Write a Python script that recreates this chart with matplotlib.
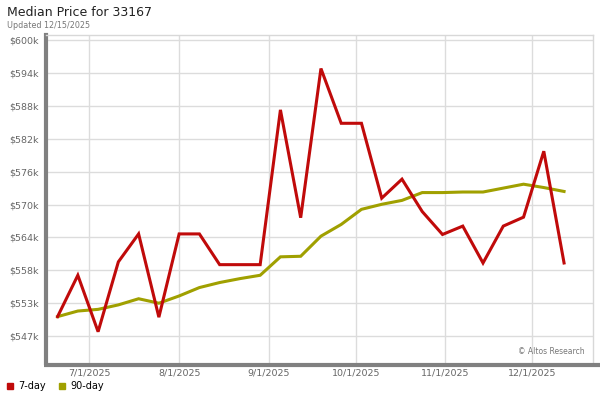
import datetime as dt
import matplotlib
matplotlib.use("Agg")
import matplotlib.pyplot as plt
import matplotlib.dates as mdates
from matplotlib.lines import Line2D

# weekly points, 6/20/2025 .. 12/12/2025
start = dt.date(2025, 6, 20)
weeks = [start + dt.timedelta(days=7 * i) for i in range(26)]

# prices in $k
day7 = [550.5, 557.9, 547.8, 560.3, 565.3, 550.4, 565.3, 565.3, 559.8, 559.8,
        559.8, 587.5, 568.2, 594.9, 585.1, 585.1, 571.7, 575.1, 569.3, 565.2,
        566.7, 560.1, 566.7, 568.3, 580.1, 560.1]
day90 = [550.5, 551.5, 551.8, 552.6, 553.7, 552.9, 554.2, 555.7, 556.6, 557.3,
         557.9, 561.2, 561.3, 564.9, 567.0, 569.7, 570.6, 571.3, 572.7, 572.7,
         572.8, 572.8, 573.5, 574.2, 573.6, 572.9]

ytick_labels = ["$547k", "$553k", "$558k", "$564k", "$570k",
                "$576k", "$582k", "$588k", "$594k", "$600k"]
xtick_dates = [dt.date(2025, m, 1) for m in range(7, 13)]

RED = "#c00a0a"
OLIVE = "#a0a000"

fig = plt.figure(figsize=(6, 4), dpi=100)
ax = fig.add_axes([46 / 600, 1 - 363 / 400, (593 - 46) / 600, (363 - 35) / 400])

ax.plot(weeks, day90, color=OLIVE, lw=2.2, solid_joinstyle="miter", zorder=3)
ax.plot(weeks, day7, color=RED, lw=2.2, solid_joinstyle="miter", zorder=4)

step = (600 - 547) / 9
yticks = [547 + step * i for i in range(10)]
ax.set_yticks(yticks)
ax.set_yticklabels(ytick_labels)
ax.set_ylim(542.2, 600.9)
ax.set_xticks(xtick_dates)
ax.xaxis.set_major_formatter(mdates.DateFormatter("%-m/%-d/%Y"))
ax.set_xlim(dt.date(2025, 6, 16) + dt.timedelta(hours=10), dt.date(2025, 12, 22) + dt.timedelta(hours=14))

ax.grid(True, color="#dcdcdc", lw=1)
ax.set_axisbelow(True)
ax.tick_params(length=0, labelsize=6.8, colors="#666666", pad=4)
ax.tick_params(axis="y", pad=5)

for s in ["top", "right"]:
    ax.spines[s].set_color("#d8d8d8")
    ax.spines[s].set_linewidth(1)
ax.spines["left"].set_color("#808080")
ax.spines["left"].set_linewidth(3)
ax.spines["bottom"].set_visible(False)
# bottom rule runs out to the right edge of the figure
fig.add_artist(Line2D([44 / 600, 1], [1 - 364.5 / 400] * 2, color="#808080",
                      lw=3, solid_capstyle="butt"))

ax.text(0.985, 0.02, "© Altos Research", transform=ax.transAxes,
        ha="right", va="bottom", fontsize=5.5, color="#777777")

fig.text(7 / 600, 1 - 13 / 400, "Median Price for 33167", fontsize=9,
         color="#222222", va="center")
fig.text(7 / 600, 1 - 25 / 400, "Updated 12/15/2025", fontsize=5.8,
         color="#777777", va="center")

handles = [Line2D([], [], ls="none", marker="s", markersize=4.5, color=RED),
           Line2D([], [], ls="none", marker="s", markersize=4.5, color=OLIVE)]
fig.legend(handles, ["7-day", "90-day"], loc="center left",
           bbox_to_anchor=(0, 1 - 386 / 400), ncol=2, frameon=False, fontsize=7,
           handlelength=0.8, handletextpad=0.5, columnspacing=1.2,
           borderaxespad=0.2)

fig.savefig("out.png", dpi=100)
